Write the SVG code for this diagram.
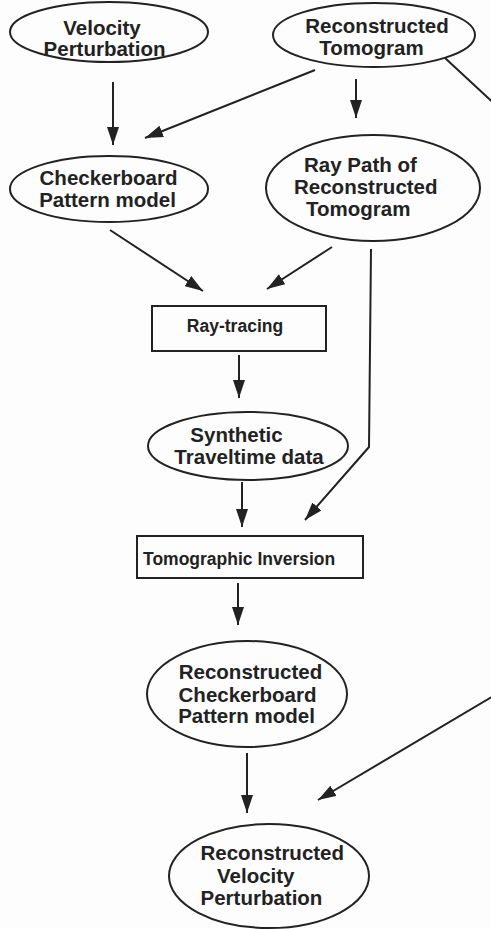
<svg xmlns="http://www.w3.org/2000/svg" width="491" height="929" viewBox="0 0 491 929">
  <style>
    .shape { fill: none; stroke: #222; stroke-width: 2; }
    .lbl { font-family: "Liberation Sans", Arial, Helvetica, sans-serif; font-weight: bold; font-size: 20.5px; fill: #222; text-anchor: middle; }
    .small { font-size: 17.5px; }
    .edge { fill: none; stroke: #222; stroke-width: 2; marker-end: url(#head); }
  </style>
  <defs>
    <marker id="head" markerUnits="userSpaceOnUse" markerWidth="18" markerHeight="12" refX="18" refY="6" orient="auto">
      <path d="M0,0 L18,6 L0,12 z" fill="#222"/>
    </marker>
  </defs>
  <rect width="491" height="929" fill="#fdfdfd"/>

  <g id="velocity-perturbation">
    <ellipse class="shape" cx="109" cy="32" rx="99" ry="30"/>
    <text class="lbl" x="102" y="35">Velocity</text>
    <text class="lbl" x="104.5" y="56">Perturbation</text>
  </g>

  <g id="reconstructed-tomogram">
    <ellipse class="shape" cx="374" cy="35" rx="101" ry="32"/>
    <text class="lbl" x="377" y="33">Reconstructed</text>
    <text class="lbl" x="371.5" y="55">Tomogram</text>
  </g>

  <g id="checkerboard-model">
    <ellipse class="shape" cx="109" cy="189" rx="99" ry="33"/>
    <text class="lbl" x="108.5" y="185">Checkerboard</text>
    <text class="lbl" x="107.5" y="207">Pattern model</text>
  </g>

  <g id="ray-path">
    <ellipse class="shape" cx="373" cy="188" rx="107" ry="53"/>
    <text class="lbl" x="304" y="172" style="text-anchor:start">Ray Path of</text>
    <text class="lbl" x="294" y="194" style="text-anchor:start">Reconstructed</text>
    <text class="lbl" x="306" y="216" style="text-anchor:start">Tomogram</text>
  </g>

  <g id="ray-tracing">
    <rect class="shape" x="152" y="306" width="174" height="45"/>
    <text class="lbl small" x="235" y="332">Ray-tracing</text>
  </g>

  <g id="synthetic-traveltime">
    <ellipse class="shape" cx="248" cy="446" rx="100" ry="34"/>
    <text class="lbl" x="236.5" y="442">Synthetic</text>
    <text class="lbl" x="249" y="464">Traveltime data</text>
  </g>

  <g id="tomographic-inversion">
    <rect class="shape" x="137" y="536" width="226" height="42"/>
    <text class="lbl small" x="143" y="565" style="text-anchor:start">Tomographic Inversion</text>
  </g>

  <g id="reconstructed-checkerboard">
    <ellipse class="shape" cx="247" cy="694" rx="100" ry="53"/>
    <text class="lbl" x="250.5" y="679">Reconstructed</text>
    <text class="lbl" x="247.5" y="702">Checkerboard</text>
    <text class="lbl" x="246.5" y="723">Pattern model</text>
  </g>

  <g id="reconstructed-velocity">
    <ellipse class="shape" cx="269" cy="876" rx="100" ry="52"/>
    <text class="lbl" x="200.5" y="860" style="text-anchor:start">Reconstructed</text>
    <text class="lbl" x="217" y="882.5" style="text-anchor:start">Velocity</text>
    <text class="lbl" x="200.5" y="905" style="text-anchor:start">Perturbation</text>
  </g>

  <g id="connectors">
    <path class="edge" d="M113,82 L113,145"/>
    <path class="edge" d="M315,70 L145,138"/>
    <path class="edge" d="M356,79 L356,118"/>
    <path class="edge" d="M110,230 L203,291"/>
    <path class="edge" d="M332,247 L267,289"/>
    <path class="edge" d="M371,249 L369,447 L305,520"/>
    <path class="edge" d="M239,355 L239,398"/>
    <path class="edge" d="M242,482 L242,527"/>
    <path class="edge" d="M238,583 L238,625"/>
    <path class="edge" d="M247,753 L247,813"/>
    <path class="edge" d="M445,58 L500,109 L500,692 L318,800"/>
  </g>
</svg>
